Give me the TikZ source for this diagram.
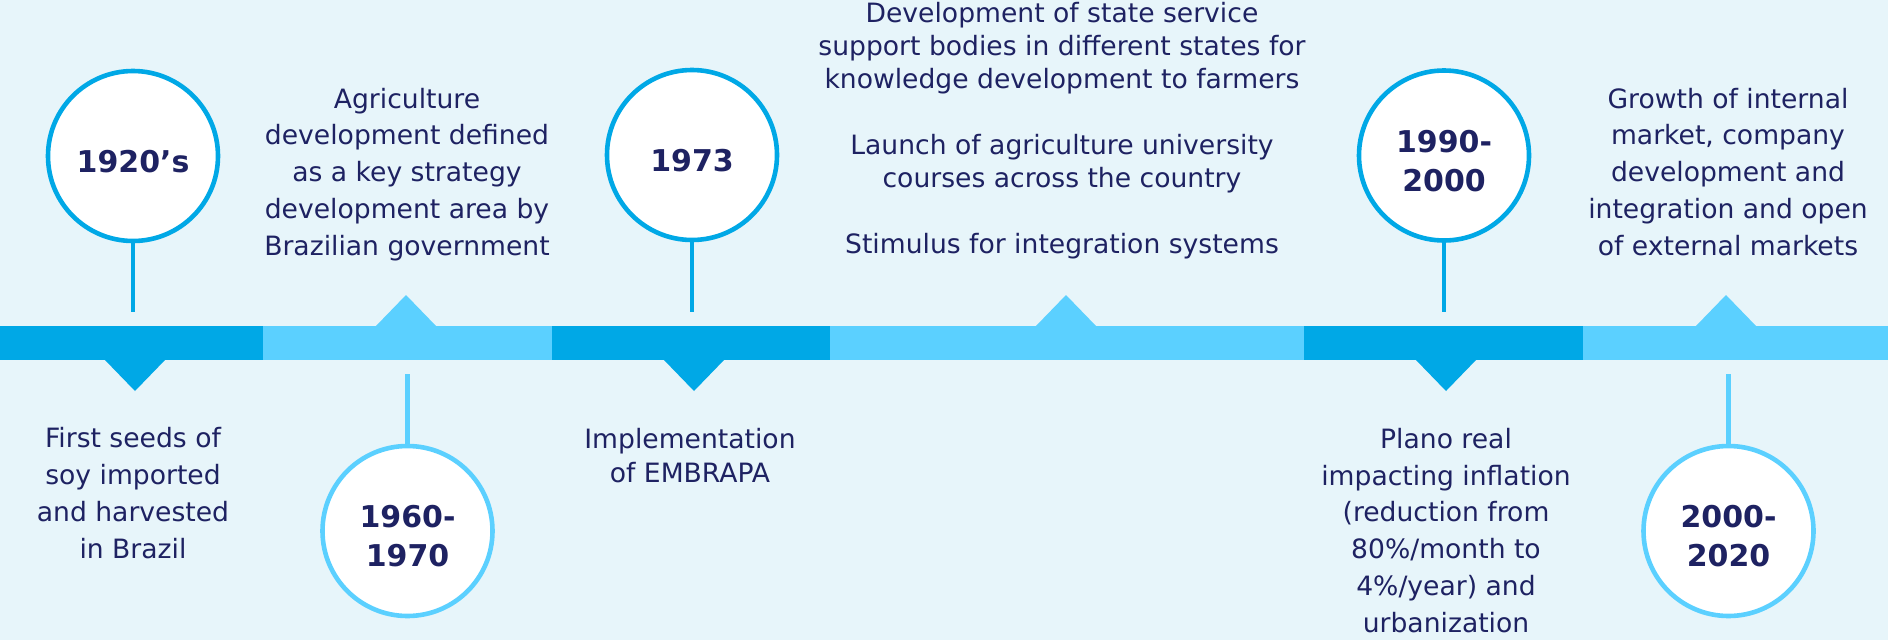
\documentclass[tikz,border=0pt]{standalone}
\usepackage{fontspec}
\setmainfont{DejaVu Sans}
\definecolor{bg}{HTML}{E7F5FA}
\definecolor{darkb}{HTML}{00A8E6}
\definecolor{lightb}{HTML}{5BD0FF}
\definecolor{navy}{HTML}{1E2262}
\begin{document}
\begin{tikzpicture}[x=1pt,y=-1pt,
  desc/.style={align=center, text=navy, inner sep=0pt, anchor=base,
    font=\fontsize{26.6}{36.7}\selectfont},
  yearc/.style={circle, draw=#1, fill=white, line width=4.6pt, minimum size=170pt,
    inner sep=0pt, align=center, text=navy,
    font=\fontsize{30}{39}\selectfont\bfseries},
  stemline/.style={draw=#1, line width=4.7pt},
]
\useasboundingbox[fill=bg] (0,0) rectangle (1888,640);

% timeline bar
\fill[darkb]  (0,326) rectangle (263,360);
\fill[lightb] (263,326) rectangle (552,360);
\fill[darkb]  (552,326) rectangle (830,360);
\fill[lightb] (830,326) rectangle (1304,360);
\fill[darkb]  (1304,326) rectangle (1583,360);
\fill[lightb] (1583,326) rectangle (1888,360);

% pointers
\fill[darkb]  (104,359) -- (135,391) -- (166,359) -- cycle;
\fill[darkb]  (663,359) -- (694,391) -- (725,359) -- cycle;
\fill[darkb]  (1415,359) -- (1446,391) -- (1477,359) -- cycle;
\fill[lightb] (375,327) -- (406,295) -- (437,327) -- cycle;
\fill[lightb] (1035,327) -- (1066,295) -- (1097,327) -- cycle;
\fill[lightb] (1695,327) -- (1726,295) -- (1757,327) -- cycle;

% year circles
\node[yearc=darkb]  (c1) at (133,156)   {\rule{0pt}{33pt}1920’s};
\node[yearc=darkb]  (c3) at (692,155)   {\rule{0pt}{33pt}1973};
\node[yearc=darkb]  (c5) at (1444,155.5) {\rule{0pt}{33pt}1990-\\2000};
\node[yearc=lightb] (c2) at (407.5,531) {\rule{0pt}{33pt}1960-\\1970};
\node[yearc=lightb] (c6) at (1728.5,531) {\rule{0pt}{33pt}2000-\\2020};

% stems
\coordinate (s1) at (133,312);
\coordinate (s3) at (692,312);
\coordinate (s5) at (1444,312);
\coordinate (s2) at (407.5,374);
\coordinate (s6) at (1728.5,374);
\draw[stemline=darkb]  (c1.south) -- (s1);
\draw[stemline=darkb]  (c3.south) -- (s3);
\draw[stemline=darkb]  (c5.south) -- (s5);
\draw[stemline=lightb] (s2) -- (c2.north);
\draw[stemline=lightb] (s6) -- (c6.north);

% descriptions (anchored at the baseline of their last line)
\node[desc] (d2) at (407,255) {Agriculture\\development defined\\as a key strategy\\development area by\\Brazilian government};
\node[desc] (d1) at (133,558) {First seeds of\\soy imported\\and harvested\\in Brazil};
\node[desc, font=\fontsize{26.6}{34}\selectfont] (d3) at (690,482) {Implementation\\of EMBRAPA};
\node[desc, font=\fontsize{26.6}{33}\selectfont] (d4) at (1062,253) {Development of state service\\support bodies in different states for\\knowledge development to farmers\\[33pt]Launch of agriculture university\\courses across the country\\[33pt]Stimulus for integration systems};
\node[desc] (d5) at (1446,632) {Plano real\\impacting inflation\\(reduction from\\80\%/month to\\4\%/year) and\\urbanization};
\node[desc] (d6) at (1728,255) {Growth of internal\\market, company\\development and\\integration and open\\of external markets};
\end{tikzpicture}
\end{document}
